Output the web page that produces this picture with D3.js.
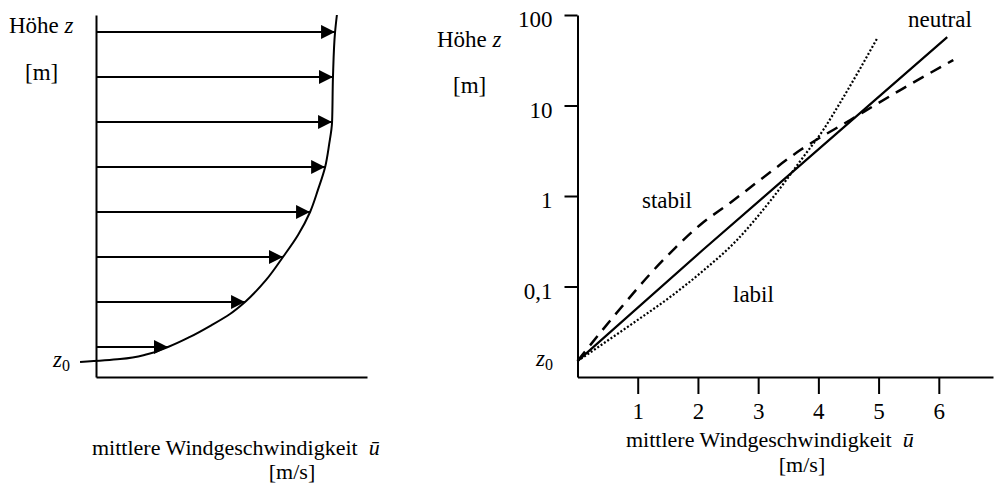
<!DOCTYPE html>
<html>
<head>
<meta charset="utf-8">
<script src="https://cdn.jsdelivr.net/npm/d3@7"></script>
<style>
  html, body { margin: 0; padding: 0; background: #fff; }
  svg { display: block; }
  text { font-family: "Liberation Serif", "Times New Roman", serif; fill: #000; }
</style>
</head>
<body>
<svg id="chart" width="994" height="495"></svg>
<script>
// ---- Left panel: linear wind profile with arrows ----
const profileHeights = [1, 1.2, 1.53, 2, 2.67, 3.47, 4.2, 5, 6.47, 8, 9.47, 11, 12.47, 14, 15.47, 17, 20, 23, 24.13];
const profileSpeeds  = [-0.53, 0.80, 1.73, 2.39, 3.12, 3.85, 4.45, 4.95, 5.65, 6.21, 6.71, 7.11, 7.37, 7.61, 7.74, 7.84, 7.87, 7.94, 8.0];
const arrowHeights = [2, 5, 8, 11, 14, 17, 20, 23];
const arrowSpeeds  = [2.39, 4.95, 6.21, 7.11, 7.61, 7.84, 7.87, 7.94];

// ---- Right panel: logarithmic height axis, three stability cases ----
const heightTicks = [0.1, 1, 10, 100];
const heightTickLabels = ["0,1", "1", "10", "100"];
const speedTicks = [1, 2, 3, 4, 5, 6];
const roughnessLength = 0.015;

const neutralU = [0, 2.08, 6.14];
const neutralZ = [0.015, 0.253, 57];
const stabilU = [0, 0.374, 0.789, 1.204, 1.62, 2.035, 2.533, 3.03, 3.70, 4.53, 5.36, 6.24];
const stabilZ = [0.015, 0.0306, 0.0657, 0.137, 0.266, 0.479, 0.838, 1.50, 3.22, 6.92, 14.8, 31.8];
const labilU = [0, 0.42, 1.00, 1.54, 2.08, 2.65, 3.20, 3.75, 4.08, 4.36, 4.66, 4.98];
const labilZ = [0.015, 0.0232, 0.0427, 0.0766, 0.148, 0.327, 0.881, 2.70, 5.36, 10.7, 23.4, 55.7];

const svg = d3.select("#chart");
const FS = 23;
const FS_LABEL = 22;

// arrow marker
svg.append("defs").append("marker")
  .attr("id", "head")
  .attr("viewBox", "0 0 14 14")
  .attr("refX", 14).attr("refY", 7)
  .attr("markerWidth", 14).attr("markerHeight", 14)
  .attr("markerUnits", "userSpaceOnUse")
  .attr("orient", "auto")
  .append("path").attr("d", "M0,0 L14,7 L0,14 Z").attr("fill", "#000");

// ===== Left panel =====
const xL = d3.scaleLinear().domain([0, 9]).range([96, 367]);
const yL = d3.scaleLinear().domain([0, 24.13]).range([377, 15]);
const left = svg.append("g");

left.append("g").attr("transform", `translate(${xL(0)},0)`)
  .call(d3.axisLeft(yL).tickValues([]).tickSizeOuter(0))
  .call(g => g.select(".domain").attr("stroke-width", 2));
left.append("g").attr("transform", `translate(0,${yL(0)})`)
  .call(d3.axisBottom(xL).tickValues([]).tickSizeOuter(0))
  .call(g => g.select(".domain").attr("stroke-width", 2));

left.selectAll("line.arrow")
  .data(arrowHeights.map((h, i) => ({ h, u: arrowSpeeds[i] })))
  .join("line").attr("class", "arrow")
  .attr("x1", xL(0)).attr("x2", d => xL(d.u))
  .attr("y1", d => yL(d.h)).attr("y2", d => yL(d.h))
  .attr("stroke", "#000").attr("stroke-width", 2)
  .attr("marker-end", "url(#head)");

const profile = profileHeights.map((h, i) => [profileSpeeds[i], h]);
left.append("path")
  .attr("d", d3.line().x(d => xL(d[0])).y(d => yL(d[1])).curve(d3.curveMonotoneY)(profile))
  .attr("fill", "none").attr("stroke", "#000").attr("stroke-width", 2);

left.append("text").attr("x", 9).attr("y", 33).attr("font-size", FS)
  .html('Höhe <tspan font-style="italic">z</tspan>');
left.append("text").attr("x", 25).attr("y", 80).attr("font-size", FS).text("[m]");
left.append("text").attr("x", 53).attr("y", 367).attr("font-size", FS)
  .html('<tspan font-style="italic">z</tspan><tspan font-size="16" dy="4">0</tspan>');

left.append("text").attr("x", 92).attr("y", 455).attr("font-size", FS_LABEL)
  .html('mittlere Windgeschwindigkeit<tspan dx="11" font-style="italic">ū</tspan>');
left.append("text").attr("x", 292).attr("y", 479).attr("font-size", FS_LABEL).attr("text-anchor", "middle").text("[m/s]");

// ===== Right panel =====
const xR = d3.scaleLinear().domain([0, 6.9]).range([577.5, 993]);
const yR = d3.scaleLog().domain([0.01, 100]).range([377, 15]);
const right = svg.append("g");

right.append("g").attr("transform", `translate(${xR(0)},0)`)
  .call(d3.axisLeft(yR).tickValues(heightTicks)
    .tickFormat((d, i) => heightTickLabels[i]).tickSize(13).tickPadding(12).tickSizeOuter(0))
  .call(g => {
    g.select(".domain").attr("stroke-width", 2);
    g.selectAll(".tick line").attr("stroke-width", 2);
    g.selectAll(".tick text").attr("font-size", FS).attr("font-family", null).attr("dy", "0.5em");
  });

right.append("g").attr("transform", `translate(0,${yR(0.01)})`)
  .call(d3.axisBottom(xR).tickValues(speedTicks).tickFormat(d3.format("d"))
    .tickSize(17).tickPadding(9).tickSizeOuter(0))
  .call(g => {
    g.select(".domain").attr("stroke-width", 2);
    g.selectAll(".tick line").attr("stroke-width", 2);
    g.selectAll(".tick text").attr("font-size", FS).attr("font-family", null);
  });

const lineR = d3.line().x(d => xR(d[0])).y(d => yR(d[1])).curve(d3.curveMonotoneX);
const series = [
  { u: neutralU, z: neutralZ, dash: null, w: 2.2 },
  { u: stabilU, z: stabilZ, dash: "12,8", w: 2.5 },
  { u: labilU, z: labilZ, dash: "2,2", w: 2.2 }
];
right.selectAll("path.profile").data(series).join("path").attr("class", "profile")
  .attr("d", s => lineR(s.u.map((u, i) => [u, s.z[i]])))
  .attr("fill", "none").attr("stroke", "#000")
  .attr("stroke-width", s => s.w)
  .attr("stroke-dasharray", s => s.dash);

right.append("text").attr("x", 437).attr("y", 47).attr("font-size", FS)
  .html('Höhe <tspan font-style="italic">z</tspan>');
right.append("text").attr("x", 453).attr("y", 93).attr("font-size", FS).text("[m]");
right.append("text").attr("x", 536).attr("y", yR(roughnessLength) + 5).attr("font-size", FS)
  .html('<tspan font-style="italic">z</tspan><tspan font-size="16" dy="4">0</tspan>');

right.append("text").attr("x", 908).attr("y", 27).attr("font-size", FS).text("neutral");
right.append("text").attr("x", 642).attr("y", 208).attr("font-size", FS).text("stabil");
right.append("text").attr("x", 733).attr("y", 302).attr("font-size", FS).text("labil");

right.append("text").attr("x", 626).attr("y", 447).attr("font-size", FS_LABEL)
  .html('mittlere Windgeschwindigkeit<tspan dx="11" font-style="italic">ū</tspan>');
right.append("text").attr("x", 802).attr("y", 472).attr("font-size", FS_LABEL).attr("text-anchor", "middle").text("[m/s]");
</script>
</body>
</html>
